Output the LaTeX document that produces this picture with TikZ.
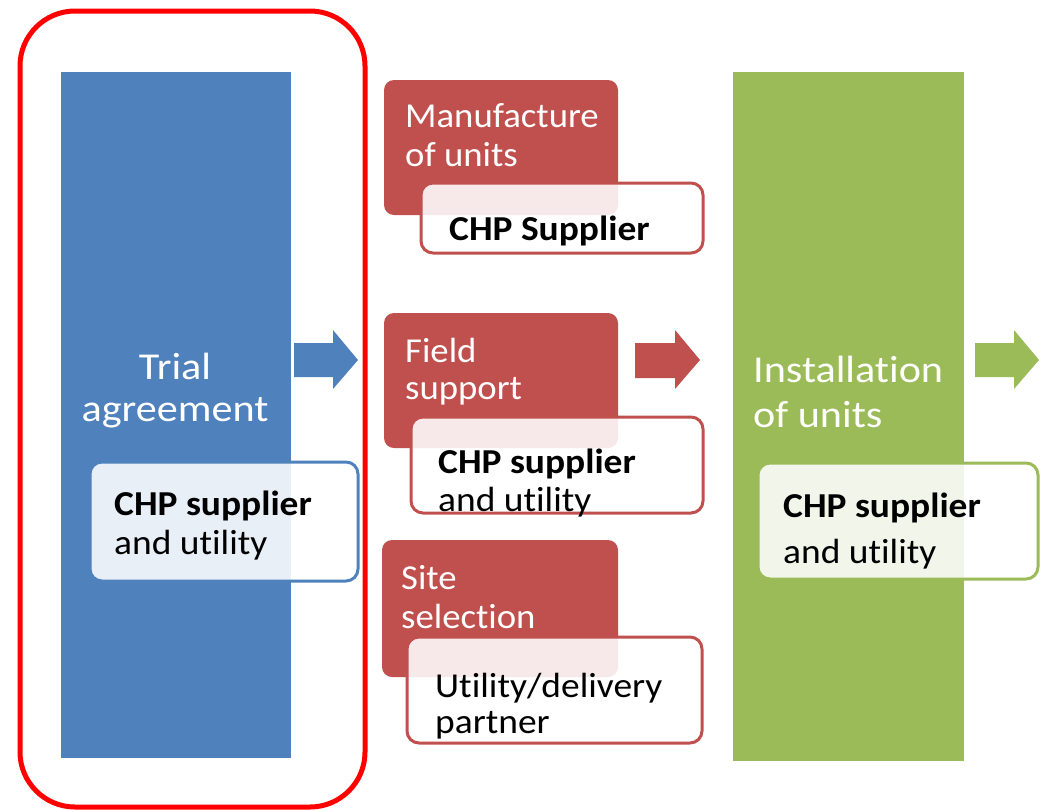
\documentclass[tikz,border=0pt]{standalone}
\usepackage{fontspec}
\setmainfont{Carlito}
\newfontfamily\bigfont[FakeStretch=1.11,Ligatures=NoCommon]{Carlito}
\newfontfamily\midfont[FakeStretch=1.05,Ligatures=NoCommon]{Carlito}
\newfontfamily\subfont[FakeStretch=1.07,Ligatures=NoCommon]{Carlito}
\definecolor{cblue}{HTML}{4F81BD}
\definecolor{cred}{HTML}{C0504D}
\definecolor{cgreen}{HTML}{9BBB59}
\definecolor{outline}{HTML}{FF0000}
\begin{document}
\begin{tikzpicture}[x=1pt,y=-1pt,
  bar/.style={fill=#1, draw=none, inner sep=0, outer sep=0, anchor=north west},
  redbox/.style={fill=cred, draw=none, rounded corners=10pt, inner sep=0, outer sep=0, anchor=north west},
  wbox/.style={draw=#1, line width=3pt, fill=white, fill opacity=0.88, rounded corners=12pt, inner sep=0, outer sep=0, anchor=north west},
  bigtxt/.style={text=white, inner sep=0, font=\bigfont\fontsize{38}{40}\selectfont},
  midtxt/.style={text=white, inner sep=0, anchor=base west, font=\midfont\fontsize{35}{38}\selectfont},
  subtxt/.style={text=black, inner sep=0, anchor=base west, font=\subfont\fontsize{35}{38}\selectfont},
  subbold/.style={subtxt, font=\subfont\fontsize{35}{38}\selectfont\bfseries}]
\useasboundingbox (0,0) rectangle (1042,809);

% outline around first stage
\node[draw=outline, line width=5pt, rounded corners=55pt, minimum width=345pt, minimum height=796pt, anchor=north west, inner sep=0] (frame) at (17.5,8.5) {};

% stage bars
\node[bar=cblue, minimum width=230pt, minimum height=686pt] (trial) at (61,72) {};
\node[bar=cgreen, minimum width=231pt, minimum height=689pt] (install) at (733,72) {};

% red boxes
\node[redbox, minimum width=234pt, minimum height=135pt] (manuf) at (384,80) {};
\node[redbox, minimum width=234pt, minimum height=135pt] (field) at (384,313) {};
\node[redbox, minimum width=236pt, minimum height=137pt] (site) at (382,540) {};

% block arrows
\fill[cblue] (294,343) -- (333,343) -- (333,330) -- (358,360) -- (333,389) -- (333,377) -- (294,377) -- cycle;
\fill[cred] (635,343) -- (675,343) -- (675,330) -- (700,360) -- (675,389) -- (675,378) -- (635,378) -- cycle;
\fill[cgreen] (975,343) -- (1014,343) -- (1014,330) -- (1039,360) -- (1014,389) -- (1014,377) -- (975,377) -- cycle;

% white boxes
\node[wbox=cblue, minimum width=268pt, minimum height=119pt] (wtrial) at (90,462) {};
\node[wbox=cred, minimum width=282pt, minimum height=70pt] (wmanuf) at (421,183) {};
\node[wbox=cred, minimum width=292pt, minimum height=96pt] (wfield) at (411,417) {};
\node[wbox=cred, minimum width=295pt, minimum height=106pt] (wsite) at (407,637) {};
\node[wbox=cgreen, minimum width=280pt, minimum height=116pt] (winstall) at (758,463) {};

% texts
\node[bigtxt, anchor=base] (t1) at (175,379) {Trial};
\node[bigtxt, anchor=base] (t2) at (175,421) {agreement};
\node[subbold] (t3) at (114,515) {CHP supplier};
\node[subtxt] (t4) at (114,554) {and utility};

\node[midtxt] (m1) at (405,127) {Manufacture};
\node[midtxt] (m2) at (405,166) {of units};
\node[subbold] (m3) at (449,240) {CHP Supplier};

\node[midtxt] (f1) at (405,362) {Field};
\node[midtxt] (f2) at (405,399) {support};
\node[subbold] (f3) at (438,473) {CHP supplier};
\node[subtxt] (f4) at (438,511) {and utility};

\node[midtxt] (s1) at (401,589) {Site};
\node[midtxt] (s2) at (401,628) {selection};
\node[subtxt] (s3) at (435,697) {Utility/delivery};
\node[subtxt] (s4) at (435,733) {partner};

\node[bigtxt, anchor=base west] (i1) at (753,382) {Installation};
\node[bigtxt, anchor=base west] (i2) at (753,427) {of units};
\node[subbold] (i3) at (783,517) {CHP supplier};
\node[subtxt] (i4) at (783,563) {and utility};
\end{tikzpicture}
\end{document}
